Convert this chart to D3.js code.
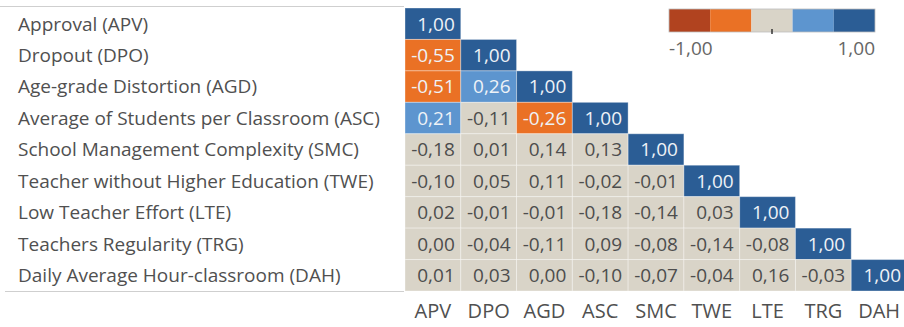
<!DOCTYPE html>
<html>
<head>
<meta charset="utf-8">
<script src="https://cdn.jsdelivr.net/npm/d3@7"></script>
<style>
  html, body { margin: 0; padding: 0; background: #fff; }
  svg { display: block; font-family: "Open Sans", "Noto Sans", sans-serif; }
</style>
</head>
<body>
<svg id="chart" width="904" height="327"></svg>
<script>
const codes = ["APV", "DPO", "AGD", "ASC", "SMC", "TWE", "LTE", "TRG", "DAH"];
const rowLabels = [
  "Approval (APV)",
  "Dropout (DPO)",
  "Age-grade Distortion (AGD)",
  "Average of Students per Classroom (ASC)",
  "School Management Complexity (SMC)",
  "Teacher without Higher Education (TWE)",
  "Low Teacher Effort (LTE)",
  "Teachers Regularity (TRG)",
  "Daily Average Hour-classroom (DAH)"
];
const corrAPV = [1.00];
const corrDPO = [-0.55, 1.00];
const corrAGD = [-0.51, 0.26, 1.00];
const corrASC = [0.21, -0.11, -0.26, 1.00];
const corrSMC = [-0.18, 0.01, 0.14, 0.13, 1.00];
const corrTWE = [-0.10, 0.05, 0.11, -0.02, -0.01, 1.00];
const corrLTE = [0.02, -0.01, -0.01, -0.18, -0.14, 0.03, 1.00];
const corrTRG = [0.00, -0.04, -0.11, 0.09, -0.08, -0.14, -0.08, 1.00];
const corrDAH = [0.01, 0.03, 0.00, -0.10, -0.07, -0.04, 0.16, -0.03, 1.00];
const rows = [corrAPV, corrDPO, corrAGD, corrASC, corrSMC, corrTWE, corrLTE, corrTRG, corrDAH];
const legendDomain = [-1, 1];
const palette = ["#b1431f", "#ea7125", "#d9d4c8", "#5d95cf", "#2b5d95"];

const cells = [];
rows.forEach((r, i) => r.forEach((v, j) => cells.push({ row: codes[i], col: codes[j], v })));

const svg = d3.select("#chart");
const x = d3.scaleBand().domain(codes).range([405, 907]);
const y = d3.scaleBand().domain(codes).range([8, 291]);
const color = d3.scaleQuantize().domain(legendDomain).range(palette);
const locale = d3.formatLocale({ decimal: ",", thousands: ".", grouping: [3], currency: ["", ""], minus: "-" });
const fmt = locale.format(".2f");

// separator lines
svg.append("line").attr("x1", 0).attr("x2", 404).attr("y1", 6.5).attr("y2", 6.5)
  .attr("stroke", "#cfcfcf").attr("stroke-width", 1);
svg.append("line").attr("x1", 5).attr("x2", 404).attr("y1", 291.5).attr("y2", 291.5)
  .attr("stroke", "#cfcfcf").attr("stroke-width", 1);

// cells
svg.append("g").selectAll("rect").data(cells).join("rect")
  .attr("x", d => x(d.col)).attr("y", d => y(d.row))
  .attr("width", x.bandwidth()).attr("height", y.bandwidth())
  .attr("fill", d => color(d.v))
  .attr("stroke", "rgba(255,255,255,0.35)").attr("stroke-width", 1);

svg.append("g").selectAll("text").data(cells).join("text")
  .attr("x", d => x(d.col) + x.bandwidth() - 6)
  .attr("y", d => y(d.row) + y.bandwidth() / 2)
  .attr("dy", "0.36em")
  .attr("text-anchor", "end")
  .attr("font-size", 19)
  .attr("fill", d => Math.abs(d.v) >= 0.2 ? "#eef2f7" : "#4d4d4d")
  .text(d => fmt(d.v));

// row labels
const yAxis = d3.axisLeft(y).tickSize(0).tickFormat((d, i) => rowLabels[i]);
const gy = svg.append("g").attr("transform", "translate(18,0)").call(yAxis);
gy.select(".domain").remove();
gy.selectAll("text").attr("text-anchor", "start").attr("x", 0).attr("dy", "0.36em")
  .attr("font-size", 19).attr("fill", "#505050").attr("font-family", "Open Sans, sans-serif");

// column labels
const xAxis = d3.axisBottom(x).tickSize(0);
const gx = svg.append("g").attr("transform", "translate(0,297)").call(xAxis);
gx.select(".domain").remove();
gx.selectAll("text").attr("font-size", 20).attr("fill", "#505050").attr("dy", "0.9em")
  .attr("font-family", "Open Sans, sans-serif");

// legend
const lx = d3.scaleLinear().domain(legendDomain).range([669, 875]);
const lg = svg.append("g");
const steps = d3.range(palette.length).map(i => {
  const t0 = legendDomain[0] + i * (legendDomain[1] - legendDomain[0]) / palette.length;
  const t1 = legendDomain[0] + (i + 1) * (legendDomain[1] - legendDomain[0]) / palette.length;
  return { t0, t1, c: palette[i] };
});
lg.selectAll("rect").data(steps).join("rect")
  .attr("x", d => lx(d.t0)).attr("y", 9)
  .attr("width", d => lx(d.t1) - lx(d.t0)).attr("height", 23)
  .attr("fill", d => d.c);
lg.append("rect").attr("x", lx(-1)).attr("y", 9).attr("width", lx(1) - lx(-1)).attr("height", 23)
  .attr("fill", "none").attr("stroke", "#bdbdbd").attr("stroke-width", 0.8);
lg.append("line").attr("x1", lx(0)).attr("x2", lx(0)).attr("y1", 29).attr("y2", 34)
  .attr("stroke", "#333").attr("stroke-width", 1.5);
lg.append("text").attr("x", lx(-1)).attr("y", 55).attr("font-size", 19).attr("fill", "#666")
  .text(fmt(legendDomain[0]));
lg.append("text").attr("x", lx(1)).attr("y", 55).attr("font-size", 19).attr("fill", "#666")
  .attr("text-anchor", "end").text(fmt(legendDomain[1]));
</script>
</body>
</html>
